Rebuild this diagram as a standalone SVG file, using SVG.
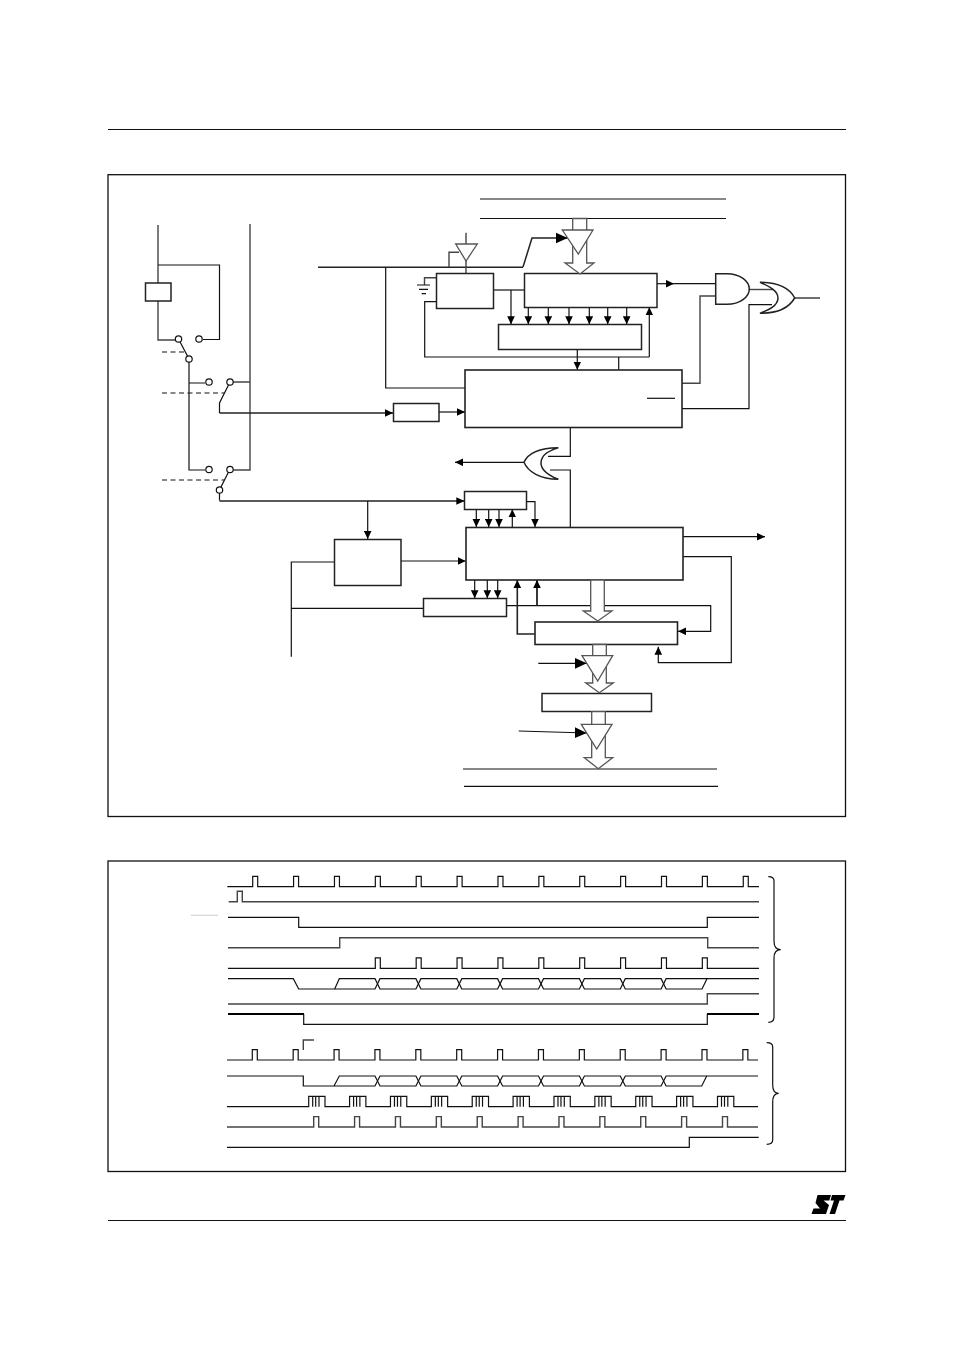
<svg xmlns="http://www.w3.org/2000/svg" width="954" height="1350" viewBox="0 0 954 1350">
<style>
  .l { fill: none; stroke: #111; stroke-width: 1.2; }
  .g { fill: none; stroke: #444; stroke-width: 1.4; }
  .t { fill: none; stroke: #222; stroke-width: 1.5; }
  .box { fill: #fff; stroke: #222; stroke-width: 1.5; }
  .hollow { fill: #fff; stroke: #555; stroke-width: 1.3; }
  .sw { fill: #fff; stroke: #111; stroke-width: 1.2; }
  .dash { fill: none; stroke: #111; stroke-width: 1; stroke-dasharray: 5 3.5; }
  .a { marker-end: url(#arrow); }
  .A { marker-end: url(#arrowBig); }
</style>
<defs>
  <marker id="arrow" markerUnits="userSpaceOnUse" markerWidth="8" markerHeight="8" refX="8" refY="4" orient="auto"><path d="M0 0.2L8 4L0 7.8Z" fill="#000"/></marker>
  <marker id="arrowBig" markerUnits="userSpaceOnUse" markerWidth="12" markerHeight="12" refX="12" refY="6" orient="auto"><path d="M0 0.5L12 6L0 11.5Z" fill="#000"/></marker>
</defs>
<rect width="954" height="1350" fill="#fff"/>

<!-- page rules and frames -->
<g id="page">
  <path class="l" d="M108 129.5H846M108 1220.5H846"/>
  <rect x="108" y="174.7" width="737.5" height="641.8" fill="none" stroke="#111" stroke-width="1.3"/>
  <rect x="108" y="861" width="737.5" height="310.5" fill="none" stroke="#111" stroke-width="1.3"/>
</g>

<!-- wiring of the block diagram -->
<g id="connectors">
  <!-- bus lines -->
  <path class="l" d="M480 199H726M480 218.5H726M463 769H717M464 786.3H718"/>
  <!-- supply rails and selector switches -->
  <path class="g" d="M158 225V340H178M250 224V470H230M230 382H250"/>
  <path class="l" d="M158 265H219.5V339.5H203M178.5 339L189 359V470H205M189 383H205"/>
  <path class="l" d="M230 382L219.5 403V413"/>
  <path class="l" d="M230 469L219.5 490V500.5"/>
  <path class="dash" d="M162 352H184M162 393H224M162 480H224"/>
  <path class="t a" d="M219.5 413H393"/>
  <path class="t a" d="M219.5 501H464.3"/>
  <path class="l a" d="M439 412H465"/>
  <path class="l a" d="M367.7 501V539"/>
  <!-- upper control line -->
  <path class="t" d="M318 267.3H523"/>
  <path class="t A" d="M523 267L532 238H567.7"/>
  <path class="l" d="M385.7 267V388H465"/>
  <path class="g" d="M449 267V252.3H459M466 232.7V244M466 261V273"/>
  <path class="g" d="M436 277.7H424.5V285"/>
  <path class="l" d="M417 285H430M419 289.3H428M421.7 293.7H426"/>
  <path class="l" d="M436 301.7H424.7V357H649.3"/>
  <path class="l a" d="M649.3 357V307.3"/>
  <!-- counter taps -->
  <path class="l" d="M493.3 290H524"/>
  <path class="l a" d="M511 290V324.3"/>
  <path class="l a" d="M528.3 307V324.3"/>
  <path class="l a" d="M548.3 307V324.3"/>
  <path class="l a" d="M569 307V324.3"/>
  <path class="l a" d="M589.3 307V324.3"/>
  <path class="l a" d="M607.7 307V324.3"/>
  <path class="l a" d="M626.7 307V324.3"/>
  <path class="l a" d="M577.3 349.3V369.7"/>
  <path class="l" d="M618.7 357V369.7"/>
  <!-- gate inputs and outputs -->
  <path class="l a" d="M657 283.7H674"/>
  <path class="l" d="M674 283.7H715.7"/>
  <path class="g" d="M715.7 296H700V383.3H682"/>
  <path class="g" d="M749 289.5H773"/>
  <path class="l" d="M682 408.7H749V304.7H772"/>
  <path class="l" d="M794.7 298H820"/>
  <path class="l" d="M570.3 427V456.3H548"/>
  <path class="l" d="M550 470H570.3V527"/>
  <path class="l a" d="M524 462.3H455"/>
  <!-- lower control block -->
  <path class="l a" d="M476.3 509.3V527"/>
  <path class="l a" d="M488.7 509.3V527"/>
  <path class="l a" d="M499 509.3V527"/>
  <path class="l a" d="M512.3 527V509.3"/>
  <path class="l a" d="M526.7 501.7H535V527"/>
  <path class="l a" d="M401 561H465.7"/>
  <path class="l" d="M334.3 562H291.3V656.7M291.3 608.3H423.3"/>
  <path class="l a" d="M474.7 580V598.3"/>
  <path class="l a" d="M487.3 580V598.3"/>
  <path class="l a" d="M497.7 580V598.3"/>
  <path class="l a" d="M506.7 605.7H710.7V631.3H678"/>
  <path class="t a" style="stroke-width:1.8" d="M537 605.7V580"/>
  <path class="t a" style="stroke-width:1.6" d="M534.7 634H517.3V580"/>
  <path class="l a" d="M683 536.7H765"/>
  <path class="l a" d="M683 556.7H731.3V662.7H658.3V646.7"/>
  <path class="l A" d="M538.3 663.3H586.7"/>
  <path class="l A" d="M518.7 731L586.7 733"/>
</g>

<g id="selector-switches">
  <circle class="sw" cx="178.5" cy="339" r="3.2"/>
  <circle class="sw" cx="199" cy="339" r="3.2"/>
  <circle class="sw" cx="189" cy="359" r="3.2"/>
  <circle class="sw" cx="209" cy="382" r="3.2"/>
  <circle class="sw" cx="230" cy="382" r="3.2"/>
  <circle class="sw" cx="209" cy="469.5" r="3.2"/>
  <circle class="sw" cx="230" cy="469.5" r="3.2"/>
  <circle class="sw" cx="219.5" cy="490" r="3.2"/>
</g>

<!-- blocks -->
<g id="clock-source"><rect class="box" x="145.5" y="283" width="25.5" height="18"/></g>
<g id="prescaler"><rect class="box" x="393.5" y="403.5" width="45.5" height="18"/></g>
<g id="baud-divider"><rect class="box" x="436.5" y="273.5" width="57" height="35"/></g>
<g id="shift-register"><rect class="box" x="524.5" y="273.5" width="132.5" height="34"/></g>
<g id="data-latch"><rect class="box" x="498.5" y="324.5" width="143" height="25"/></g>
<g id="main-control"><rect class="box" style="stroke-width:1.6" x="465" y="370" width="217" height="57.5"/></g>
<g id="status-bar"><path class="l" d="M647 398.3H675"/></g>
<g id="timing-latch"><rect class="box" x="464.5" y="491.5" width="62" height="18"/></g>
<g id="receive-control"><rect class="box" style="stroke-width:1.6" x="466" y="527.5" width="217" height="52.5"/></g>
<g id="clock-gate"><rect class="box" x="334.5" y="539.5" width="66.5" height="46"/></g>
<g id="sample-latch"><rect class="box" x="423.5" y="598.5" width="83" height="18"/></g>
<g id="receive-shift"><rect class="box" style="stroke-width:1.6" x="535" y="622" width="142.5" height="22.5"/></g>
<g id="receive-buffer"><rect class="box" x="542" y="693.5" width="109.5" height="18"/></g>

<!-- logic gates -->
<g id="and-gate"><path class="t" fill="#fff" d="M715.7 273.7H727C740 273.7 749.3 281 749.3 289C749.3 297 740 304.3 727 304.3H715.7Z"/></g>
<g id="or-gate-right"><path class="t" d="M760 282.3C768 286 778 290 778 298C778 306 768 310 760 313.3C780 313.5 790 306 794.7 298C790 289 780 282.5 760 282.3Z"/></g>
<g id="or-gate-left"><path class="t" d="M558.3 447.7C550 450 541 455 541 463C541 471 550 476 558.3 479.3C540 479 528 472 524 462.3C528 453 540 448 558.3 447.7Z"/></g>
<g id="input-buffer"><path fill="#fff" stroke="#555" stroke-width="1.3" d="M455.7 244H477.3L466 261Z"/></g>

<!-- hollow data paths -->
<g id="bus-path-top">
  <path class="hollow" d="M572.7 218.5V263H565L580 274L594 263H586.7V218.5Z"/>
  <path class="hollow" d="M562.3 230H593L578.3 254Z"/>
</g>
<g id="bus-path-receive"><path class="hollow" d="M590.7 580V611H583.3L597.7 621L612 611H604.3V580Z"/></g>
<g id="bus-path-buffer">
  <path class="hollow" d="M592.7 644.5V683H585.7L599.3 692.7L613.3 683H606.3V644.5Z"/>
  <path class="hollow" d="M582 655.7H612.7L597.7 681Z"/>
</g>
<g id="bus-path-output">
  <path class="hollow" d="M591.7 711.7V757.7H584.3L598.3 768.7L612.7 757.7H605.3V711.7Z"/>
  <path class="hollow" d="M581.3 724.3H612L596.7 749Z"/>
</g>

<!-- transmit waveforms -->
<g id="timing-transmit">
  <path class="l" d="M227.3 886.7H252.7v-10.4h5v10.4h35.88v-10.4h5v10.4h35.88v-10.4h5v10.4h35.88v-10.4h5v10.4h35.88v-10.4h5v10.4h35.88v-10.4h5v10.4h35.88v-10.4h5v10.4h35.88v-10.4h5v10.4h35.88v-10.4h5v10.4h35.88v-10.4h5v10.4h35.88v-10.4h5v10.4h35.88v-10.4h5v10.4h35.88v-10.4h5v10.4H759"/>
  <path class="g" d="M228.7 901.7H237.3V891.3H242.3V901.7H759"/>
  <path d="M191 915.3H218" fill="none" stroke="#ccc" stroke-width="1"/>
  <path class="l" d="M228 917.3H298.7V927.3H707.3V917.3H759"/>
  <path class="g" d="M228 947.7H339.7V937.7H707.7V947.7H759"/>
  <path class="l" d="M228 968.3H375.3v-10.4h5v10.4h35.88v-10.4h5v10.4h35.88v-10.4h5v10.4h35.88v-10.4h5v10.4h35.88v-10.4h5v10.4h35.88v-10.4h5v10.4h35.88v-10.4h5v10.4h35.88v-10.4h5v10.4h35.88v-10.4h5v10.4H759"/>
  <path class="l" d="M228 978.7H293.3L298.7 989H334.7L339.3 978.7H375l5 10.3H415.9l5 -10.3H456.8l5 10.3H497.6l5 -10.3H538.5l5 10.3H579.4l5 -10.3H620.3l5 10.3H661.1l5 -10.3H759"/>
  <path class="l" d="M334.7 989H375l5 -10.3H415.9l5 10.3H456.8l5 -10.3H497.6l5 10.3H538.5l5 -10.3H579.4l5 10.3H620.3l5 -10.3H661.1l5 10.3H702l5 -10.3"/>
  <path class="g" d="M228 1004H707.3V993.7H759"/>
  <path class="l" d="M303.7 1014V1024.3H707.3V1014"/>
  <path fill="none" stroke="#000" stroke-width="2" d="M228 1014H304M707 1014H759"/>
  <path class="l" d="M768.3 876.7C772 876.7 774 878 774 881V941C774 946 776 949.7 780.7 949.7C776 949.7 774 953 774 958V1017C774 1021 772 1022.3 768.3 1022.3"/>
</g>

<!-- receive waveforms -->
<g id="timing-receive">
  <path class="l" d="M227 1060H252.3v-10.4h5v10.4h35.88v-10.4h5v10.4h35.88v-10.4h5v10.4h35.88v-10.4h5v10.4h35.88v-10.4h5v10.4h35.88v-10.4h5v10.4h35.88v-10.4h5v10.4h35.88v-10.4h5v10.4h35.88v-10.4h5v10.4h35.88v-10.4h5v10.4h35.88v-10.4h5v10.4h35.88v-10.4h5v10.4h35.88v-10.4h5v10.4H758"/>
  <path class="g" d="M303.3 1050V1040H314"/>
  <path class="l" d="M227 1076H303.3V1086H334L339.3 1076H375l5 10H415.9l5 -10H456.8l5 10H497.6l5 -10H538.5l5 10H579.4l5 -10H620.3l5 10H661.1l5 -10H758"/>
  <path class="l" d="M334 1086H375l5 -10H415.9l5 10H456.8l5 -10H497.6l5 10H538.5l5 -10H579.4l5 10H620.3l5 -10H661.1l5 10H701.7l5 -10"/>
  <path class="l" d="M227 1106.7H308.7v-10.4h4v10.4v-10.4h3v10.4v-10.4h3.3v10.4v-10.4h6v10.4h24.58v-10.4h4v10.4v-10.4h3v10.4v-10.4h3.3v10.4v-10.4h6v10.4h24.58v-10.4h4v10.4v-10.4h3v10.4v-10.4h3.3v10.4v-10.4h6v10.4h24.58v-10.4h4v10.4v-10.4h3v10.4v-10.4h3.3v10.4v-10.4h6v10.4h24.58v-10.4h4v10.4v-10.4h3v10.4v-10.4h3.3v10.4v-10.4h6v10.4h24.58v-10.4h4v10.4v-10.4h3v10.4v-10.4h3.3v10.4v-10.4h6v10.4h24.58v-10.4h4v10.4v-10.4h3v10.4v-10.4h3.3v10.4v-10.4h6v10.4h24.58v-10.4h4v10.4v-10.4h3v10.4v-10.4h3.3v10.4v-10.4h6v10.4h24.58v-10.4h4v10.4v-10.4h3v10.4v-10.4h3.3v10.4v-10.4h6v10.4h24.58v-10.4h4v10.4v-10.4h3v10.4v-10.4h3.3v10.4v-10.4h6v10.4h24.58v-10.4h4v10.4v-10.4h3v10.4v-10.4h3.3v10.4v-10.4h6v10.4H758"/>
  <path class="g" d="M227 1127H313.7v-10.4h5v10.4h35.88v-10.4h5v10.4h35.88v-10.4h5v10.4h35.88v-10.4h5v10.4h35.88v-10.4h5v10.4h35.88v-10.4h5v10.4h35.88v-10.4h5v10.4h35.88v-10.4h5v10.4h35.88v-10.4h5v10.4h35.88v-10.4h5v10.4h35.88v-10.4h5v10.4H758"/>
  <path class="l" d="M227 1147.3H689.3V1137.3H758.7"/>
  <path class="l" d="M766.7 1042.7C770.5 1042.7 772.7 1044 772.7 1047V1085C772.7 1090 774.5 1093.3 778.7 1093.3C774.5 1093.3 772.7 1097 772.7 1102V1140C772.7 1143 770.5 1144.3 766.7 1144.3"/>
</g>

<!-- company mark -->
<g id="logo">
  <path fill="#000" d="M817.5 1195H831L829.3 1200.5H823.5L829 1205L826 1214H811.5L813.5 1208.5H820L815.5 1203Z"/>
  <path fill="#000" d="M832 1195H845.5L843.5 1200.5H839.5L835 1214H829.5L834 1200.5H830.5Z"/>
</g>
</svg>
